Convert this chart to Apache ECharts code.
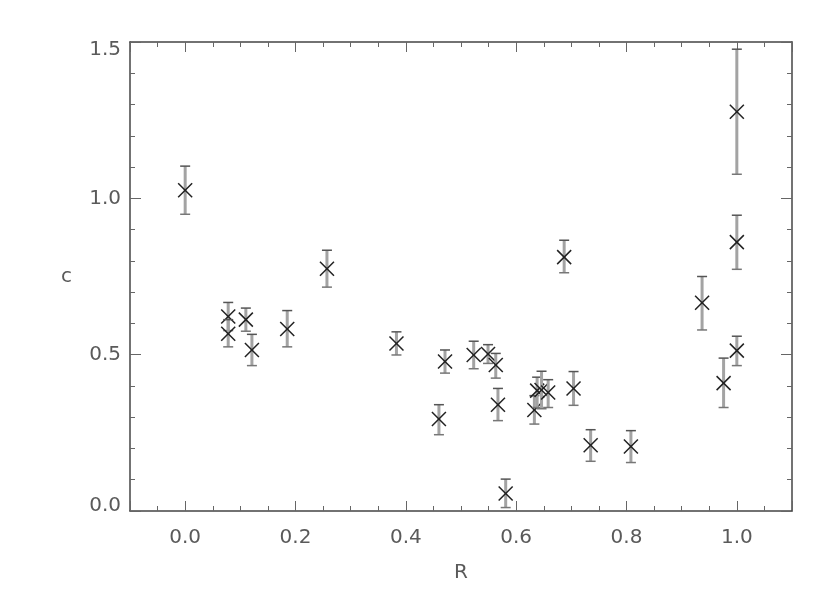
<!DOCTYPE html>
<html>
<head>
<meta charset="utf-8">
<script src="https://cdn.jsdelivr.net/npm/echarts@6/dist/echarts.min.js"></script>
<style>
  html, body { margin: 0; padding: 0; background: #fff; }
</style>
</head>
<body>
<!-- chart container -->
<div id="chart" style="width:830px; height:596px"></div>
<script>
// R values (x)
var rValues = [0.0, 0.078, 0.078, 0.110, 0.121, 0.185, 0.257, 0.383, 0.460, 0.471,
  0.523, 0.549, 0.563, 0.567, 0.581, 0.633, 0.638, 0.646, 0.658, 0.687,
  0.704, 0.735, 0.808, 0.937, 0.976, 1.0, 1.0, 1.0];
// c values (y)
var cValues = [1.026, 0.622, 0.567, 0.612, 0.515, 0.582, 0.775, 0.536, 0.294, 0.478,
  0.499, 0.502, 0.467, 0.340, 0.056, 0.323, 0.385, 0.387, 0.379, 0.812,
  0.392, 0.210, 0.206, 0.666, 0.409, 1.277, 0.860, 0.513];
// error bars (up / down)
var errUp = [0.077, 0.045, 0.045, 0.037, 0.050, 0.059, 0.059, 0.037, 0.046, 0.037,
  0.044, 0.030, 0.037, 0.052, 0.046, 0.046, 0.043, 0.060, 0.041, 0.054,
  0.054, 0.050, 0.051, 0.084, 0.080, 0.200, 0.086, 0.046];
var errDown = [0.077, 0.045, 0.042, 0.037, 0.050, 0.057, 0.059, 0.037, 0.050, 0.037,
  0.044, 0.030, 0.042, 0.051, 0.045, 0.045, 0.054, 0.060, 0.048, 0.050,
  0.054, 0.051, 0.051, 0.087, 0.078, 0.200, 0.087, 0.048];
var xTickLabels = ['0.0', '0.2', '0.4', '0.6', '0.8', '1.0'];
var yTickLabels = ['0.0', '0.5', '1.0', '1.5'];

var data = rValues.map(function (r, i) {
  return [r, cValues[i], errDown[i], errUp[i]];
});

var textFont = { color: '#5a5a5a', fontFamily: 'DejaVu Sans', fontSize: 20 };
var lineCol = '#444';
var tickCol = '#666';

function fmtX(v) {
  var s = v.toFixed(1);
  return xTickLabels.indexOf(s) >= 0 && Math.abs(v * 5 - Math.round(v * 5)) < 1e-6 ? s : '';
}
// edge labels of y axis sit a bit inside, like the original
function fmtY(v) {
  var s = v.toFixed(1);
  if (yTickLabels.indexOf(s) < 0) return '';
  if (s === yTickLabels[0]) return '{lo|' + s + '}';
  if (s === yTickLabels[yTickLabels.length - 1]) return '{hi|' + s + '}';
  return s;
}

// major x axis (bottom / top)
function xMajor(pos, showLabel) {
  return {
    type: 'value', position: pos, min: -0.1, max: 1.1, splitNumber: 6,
    name: showLabel ? 'R' : '', nameLocation: 'middle', nameGap: 52,
    nameTextStyle: textFont,
    axisLine: { show: true, onZero: false, lineStyle: { color: lineCol, width: 1.5 } },
    axisTick: { show: true, inside: true, length: 10, lineStyle: { color: tickCol, width: 1 } },
    axisLabel: Object.assign({ show: showLabel, margin: 17, formatter: fmtX }, textFont),
    splitLine: { show: false }
  };
}
// minor x ticks (every 0.05)
function xMinor(pos) {
  return {
    type: 'value', position: pos, min: -0.1, max: 1.1, interval: 0.05,
    axisLine: { show: false, onZero: false },
    axisTick: { show: true, inside: true, length: 5, lineStyle: { color: tickCol, width: 1 } },
    axisLabel: { show: false },
    splitLine: { show: false }
  };
}
function yAxisOf(pos, showLabel) {
  return {
    type: 'value', position: pos, min: 0, max: 1.5, interval: 0.5,
    name: showLabel ? 'c' : '', nameLocation: 'middle', nameGap: 58, nameRotate: 0,
    nameTextStyle: textFont,
    axisLine: { show: true, onZero: false, lineStyle: { color: lineCol, width: 1.5 } },
    axisTick: { show: true, inside: true, length: 11, lineStyle: { color: tickCol, width: 1 } },
    minorTick: { show: true, splitNumber: 5, length: 5, lineStyle: { color: tickCol, width: 1 } },
    axisLabel: Object.assign({
      show: showLabel, margin: 9, formatter: fmtY,
      rich: {
        lo: Object.assign({ padding: [0, 0, 11, 0] }, textFont),
        hi: Object.assign({ padding: [15, 0, 0, 0] }, textFont)
      }
    }, textFont),
    splitLine: { show: false },
    minorSplitLine: { show: false }
  };
}

var myChart = echarts.init(document.getElementById('chart'));

myChart.setOption({
  backgroundColor: '#fff',
  animation: false,
  grid: { left: 130, right: 38, top: 42, bottom: 85, containLabel: false },
  xAxis: [xMajor('bottom', true), xMinor('bottom'), xMajor('top', false), xMinor('top')],
  yAxis: [yAxisOf('left', true), yAxisOf('right', false)],
  series: [
    {
      type: 'custom',
      xAxisIndex: 0,
      yAxisIndex: 0,
      data: data,
      renderItem: function (params, api) {
        var x = api.value(0), y = api.value(1);
        var p = api.coord([x, y]);
        var pt = api.coord([x, y + api.value(3)]);
        var pb = api.coord([x, y - api.value(2)]);
        var cw = 5, s = 7;
        return {
          type: 'group',
          children: [
            // grey error bar
            { type: 'line', shape: { x1: pt[0], y1: pt[1], x2: pb[0], y2: pb[1] },
              style: { stroke: '#a3a3a3', lineWidth: 3 } },
            { type: 'line', shape: { x1: pt[0] - cw, y1: pt[1], x2: pt[0] + cw, y2: pt[1] },
              style: { stroke: '#555', lineWidth: 1.5 } },
            { type: 'line', shape: { x1: pb[0] - cw, y1: pb[1], x2: pb[0] + cw, y2: pb[1] },
              style: { stroke: '#777', lineWidth: 1.5 } },
            // X marker
            { type: 'line', shape: { x1: p[0] - s, y1: p[1] - s, x2: p[0] + s, y2: p[1] + s },
              style: { stroke: '#222', lineWidth: 1.5 } },
            { type: 'line', shape: { x1: p[0] - s, y1: p[1] + s, x2: p[0] + s, y2: p[1] - s },
              style: { stroke: '#222', lineWidth: 1.5 } }
          ]
        };
      }
    }
  ]
});
</script>
</body>
</html>
